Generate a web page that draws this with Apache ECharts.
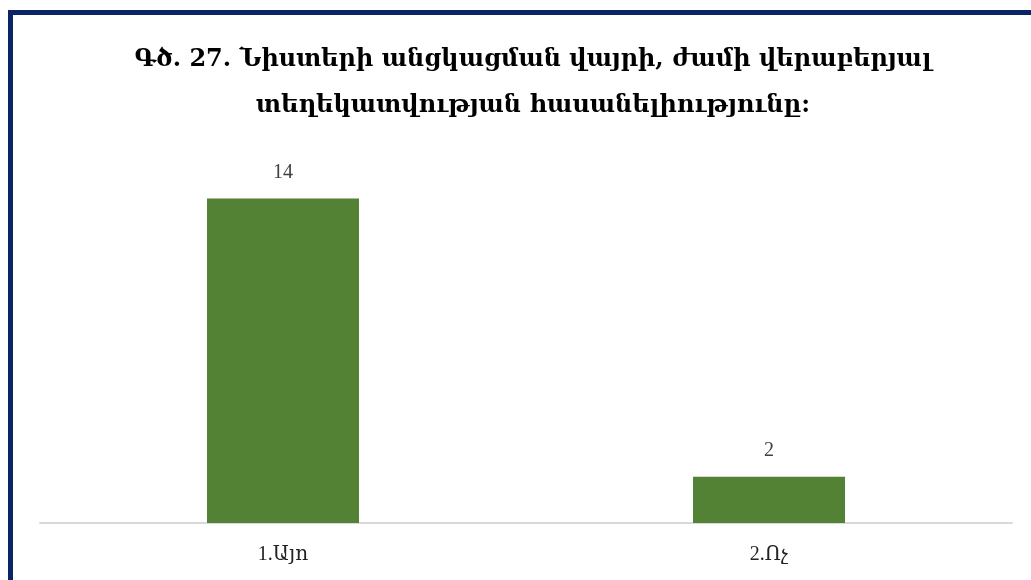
<!DOCTYPE html>
<html><head><meta charset="utf-8">
<script src="https://cdn.jsdelivr.net/npm/echarts@6/dist/echarts.min.js"></script>
<style>html,body{margin:0;padding:0;background:#fff}#c{width:1031px;height:580px}</style>
</head><body><div id="c"></div>
<script>
const titleText = 'Գծ. 27. Նիստերի անցկացման վայրի, ժամի վերաբերյալ\nտեղեկատվության հասանելիությունը:';
const categories = ['1.Այո', '2.Ոչ'];
const values = [14, 2];

const chart = echarts.init(document.getElementById('c'), null, {renderer: 'canvas'});
chart.setOption({
  backgroundColor: '#ffffff',
  animation: false,
  title: {
    text: titleText,
    left: 528, top: 32, textAlign: 'center',
    textStyle: {fontFamily: '"DejaVu Serif", serif', fontWeight: 'bold', fontSize: 24, lineHeight: 46, color: '#000'}
  },
  graphic: [
    {type: 'rect', shape: {x: 8, y: 10, width: 1023, height: 5}, style: {fill: '#0b2465'}},
    {type: 'rect', shape: {x: 8, y: 10, width: 5, height: 570}, style: {fill: '#0b2465'}}
  ],
  grid: {left: 40, right: 19, top: 152, bottom: 57},
  xAxis: {
    type: 'category', data: categories,
    axisLine: {lineStyle: {color: '#d9d9d9', width: 2}},
    axisTick: {show: false},
    axisLabel: {fontFamily: '"Liberation Serif", "DejaVu Serif", serif', fontSize: 20, color: '#222', margin: 22}
  },
  yAxis: {type: 'value', min: 0, max: 16, show: false, splitLine: {show: false}},
  series: [{
    type: 'bar', data: values, barWidth: 152,
    itemStyle: {color: '#548235'},
    label: {show: true, position: 'top', distance: 16, fontFamily: '"Liberation Serif", "DejaVu Serif", serif', fontSize: 20, color: '#404040'}
  }]
});
</script></body></html>
